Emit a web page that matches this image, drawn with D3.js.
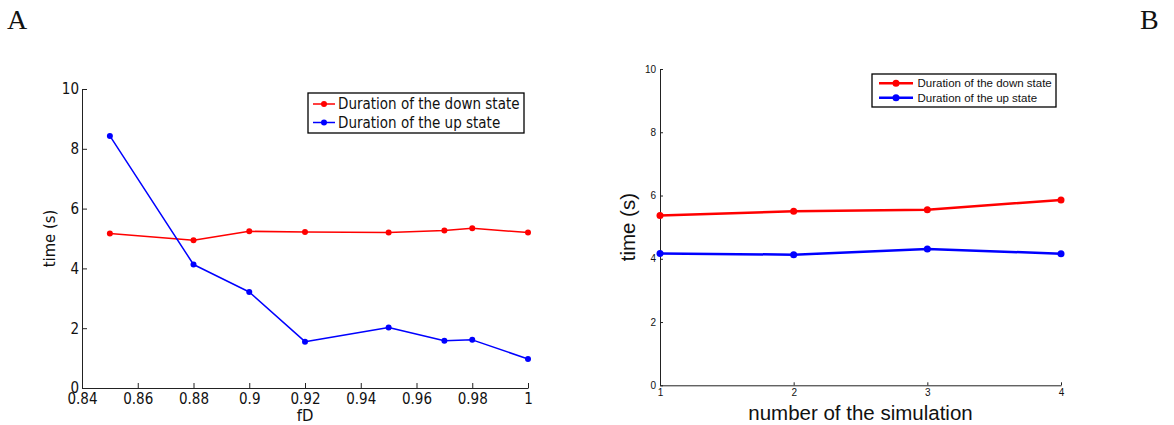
<!DOCTYPE html>
<html>
<head>
<meta charset="utf-8">
<script src="https://cdn.jsdelivr.net/npm/d3@7"></script>
<style>
  html, body { margin: 0; padding: 0; background: #fff; }
  svg { display: block; }
</style>
</head>
<body>
<svg id="fig" width="1174" height="425"></svg>
<script>
// Panel A: state durations against fD
const fdValues = [0.85, 0.88, 0.9, 0.92, 0.95, 0.97, 0.98, 1];
const downStateA = [5.17, 4.94, 5.24, 5.22, 5.20, 5.27, 5.34, 5.20];
const upStateA = [8.43, 4.13, 3.21, 1.55, 2.02, 1.58, 1.61, 0.97];
const xTicksA = [0.84, 0.86, 0.88, 0.9, 0.92, 0.94, 0.96, 0.98, 1];
const yTicks = [0, 2, 4, 6, 8, 10];

// Panel B: state durations per simulation run
const simulations = [1, 2, 3, 4];
const downStateB = [5.37, 5.50, 5.55, 5.86];
const upStateB = [4.17, 4.13, 4.31, 4.16];

const seriesNames = ["Duration of the down state", "Duration of the up state"];
const seriesColors = ["#ff0000", "#0000ff"];

const svg = d3.select("#fig");

function drawPanel(cfg) {
  const g = svg.append("g");
  const x = d3.scaleLinear().domain(cfg.xDomain).range(cfg.xRange);
  const y = d3.scaleLinear().domain([0, 10]).range(cfg.yRange);

  // axes with inward ticks, no box
  const xAxis = d3.axisBottom(x).tickValues(cfg.xTicks)
    .tickSizeInner(-cfg.tickLen).tickSizeOuter(0).tickPadding(cfg.xPad)
    .tickFormat(d => String(+d.toFixed(2)));
  const yAxis = d3.axisLeft(y).tickValues(yTicks)
    .tickSizeInner(-cfg.tickLen).tickSizeOuter(0).tickPadding(cfg.yPad)
    .tickFormat(d => String(d));

  const gx = g.append("g").attr("transform", `translate(0,${cfg.yRange[0]})`).call(xAxis);
  const gy = g.append("g").attr("transform", `translate(${cfg.xRange[0]},0)`).call(yAxis);
  [gx, gy].forEach(ax => {
    ax.select(".domain").attr("stroke", "#222").attr("stroke-width", 1);
    ax.selectAll(".tick line").attr("stroke", "#222").attr("stroke-width", 1);
    ax.selectAll(".tick text")
      .attr("fill", "#111")
      .style("font-family", cfg.tickFont)
      .style("font-size", cfg.tickSize + "px");
  });

  // axis titles
  g.append("text")
    .attr("x", (cfg.xRange[0] + cfg.xRange[1]) / 2)
    .attr("y", cfg.xTitleY)
    .attr("text-anchor", "middle")
    .attr("dominant-baseline", "central")
    .style("font-family", cfg.titleFont)
    .style("font-size", cfg.titleSize + "px")
    .attr("fill", "#111")
    .text(cfg.xTitle);
  g.append("text")
    .attr("transform", `translate(${cfg.yTitleX},${(cfg.yRange[0] + cfg.yRange[1]) / 2}) rotate(-90)`)
    .attr("text-anchor", "middle")
    .attr("dominant-baseline", "central")
    .style("font-family", cfg.titleFont)
    .style("font-size", cfg.titleSize + "px")
    .attr("fill", "#111")
    .text("time (s)");

  // series lines and markers
  const line = d3.line().x(d => x(d[0])).y(d => y(d[1]));
  cfg.series.forEach((vals, i) => {
    const pts = cfg.xValues.map((xv, j) => [xv, vals[j]]);
    g.append("path").datum(pts)
      .attr("d", line)
      .attr("fill", "none")
      .attr("stroke", seriesColors[i])
      .attr("stroke-width", cfg.lineWidth)
      .attr("stroke-linejoin", "round");
    g.selectAll(null).data(pts).enter().append("circle")
      .attr("cx", d => x(d[0]))
      .attr("cy", d => y(d[1]))
      .attr("r", cfg.markerR)
      .attr("fill", seriesColors[i]);
  });

  // legend
  const L = cfg.legend;
  g.append("rect")
    .attr("x", L.x).attr("y", L.y).attr("width", L.w).attr("height", L.h)
    .attr("fill", "#fff").attr("stroke", "#000").attr("stroke-width", 1.3);
  seriesNames.forEach((name, i) => {
    const ry = L.rowY[i];
    g.append("line")
      .attr("x1", L.lineX0).attr("x2", L.lineX1).attr("y1", ry).attr("y2", ry)
      .attr("stroke", seriesColors[i]).attr("stroke-width", cfg.lineWidth);
    g.append("circle")
      .attr("cx", (L.lineX0 + L.lineX1) / 2).attr("cy", ry).attr("r", cfg.markerR)
      .attr("fill", seriesColors[i]);
    g.append("text")
      .attr("x", L.textX).attr("y", ry)
      .attr("dominant-baseline", "central")
      .style("font-family", cfg.legendFont)
      .style("font-size", L.fontSize + "px")
      .attr("fill", "#111")
      .text(name);
  });
}

const condensed = "'DejaVu Sans Condensed', 'DejaVu Sans', sans-serif";
const arialLike = "'Liberation Sans', Arial, sans-serif";

drawPanel({
  xDomain: [0.84, 1], xRange: [82, 528], yRange: [388, 89],
  xTicks: xTicksA, xValues: fdValues, series: [downStateA, upStateA],
  tickLen: 5, xPad: 5, yPad: 3,
  tickFont: condensed, tickSize: 15,
  titleFont: condensed, titleSize: 16.5,
  xTitle: "fD", xTitleY: 415, yTitleX: 49,
  lineWidth: 1.5, markerR: 3,
  legendFont: condensed,
  legend: { x: 308, y: 93, w: 216, h: 40, rowY: [104, 122.5], lineX0: 313, lineX1: 335, textX: 338, fontSize: 15 }
});

drawPanel({
  xDomain: [1, 4], xRange: [660, 1061], yRange: [385.3, 69],
  xTicks: simulations, xValues: simulations, series: [downStateB, upStateB],
  tickLen: 3, xPad: 4, yPad: 4,
  tickFont: arialLike, tickSize: 10,
  titleFont: arialLike, titleSize: 20.5,
  xTitle: "number of the simulation", xTitleY: 412, yTitleX: 627,
  lineWidth: 2.5, markerR: 3.5,
  legendFont: arialLike,
  legend: { x: 872, y: 74, w: 184, h: 33, rowY: [83.3, 97.7], lineX0: 879, lineX1: 913, textX: 917.5, fontSize: 11.5 }
});

// panel letters
svg.append("text").attr("x", 7).attr("y", 29)
  .style("font-family", "'Liberation Serif', 'DejaVu Serif', serif")
  .style("font-size", "28px").attr("fill", "#111").text("A");
svg.append("text").attr("x", 1140).attr("y", 29)
  .style("font-family", "'Liberation Serif', 'DejaVu Serif', serif")
  .style("font-size", "28px").attr("fill", "#111").text("B");
</script>
</body>
</html>
